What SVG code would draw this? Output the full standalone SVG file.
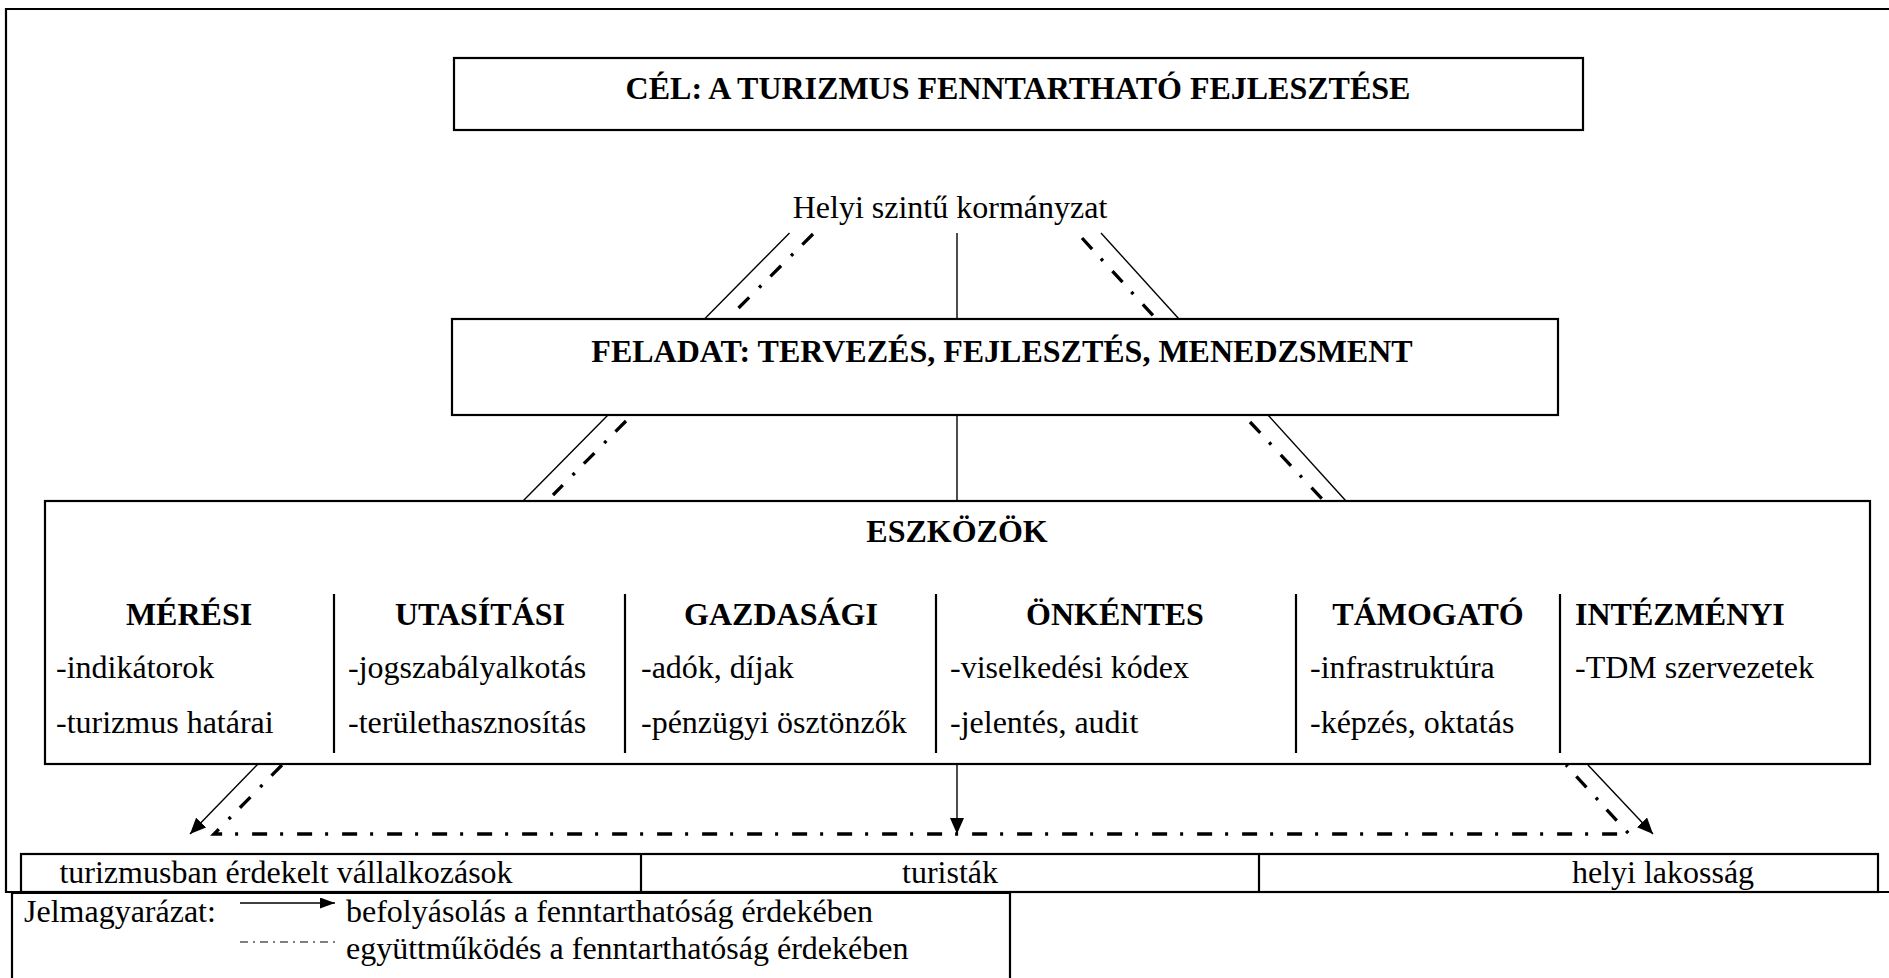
<svg xmlns="http://www.w3.org/2000/svg" width="1889" height="978" viewBox="0 0 1889 978">
<style>
  text { font-family: "Liberation Serif", "Times New Roman", serif; font-size: 32px; fill: #000; }
  .b { font-weight: bold; }
  .m { text-anchor: middle; }
  .box { fill: #fff; stroke: #000; stroke-width: 2.2; }
  .frame { fill: none; stroke: #000; stroke-width: 2.2; }
  .div { stroke: #000; stroke-width: 2.2; }
  .solid { fill: none; stroke: #000; stroke-width: 1.4; }
  .dd { fill: none; stroke: #000; stroke-width: 3.3; stroke-dasharray: 15 13 3 14; }
  .ddl { fill: none; stroke: #000; stroke-width: 1.2; stroke-dasharray: 8 5 2 5; }
</style>
<defs>
  <marker id="ah" markerUnits="userSpaceOnUse" markerWidth="17" markerHeight="14" refX="16" refY="7" orient="auto">
    <path d="M0,0 L16,7 L0,14 z" fill="#000"/>
  </marker>
  <marker id="ahs" markerUnits="userSpaceOnUse" markerWidth="16" markerHeight="11" refX="15" refY="5.5" orient="auto">
    <path d="M0,0 L15,5.5 L0,11 z" fill="#000"/>
  </marker>
</defs>
<rect width="1889" height="978" fill="#fff"/>

<g id="frame">
  <path class="frame" d="M1889,9 H6 V892 H1889"/>
</g>

<g id="cel">
  <rect class="box" x="454" y="58" width="1129" height="72"/>
  <text class="b m" x="1018" y="99">CÉL: A TURIZMUS FENNTARTHATÓ FEJLESZTÉSE</text>
</g>

<g id="helyi">
  <text class="m" x="950" y="218">Helyi szintű kormányzat</text>
</g>

<g id="feladat">
  <rect class="box" x="452" y="319" width="1106" height="96"/>
  <text class="b m" x="1002" y="362">FELADAT: TERVEZÉS, FEJLESZTÉS, MENEDZSMENT</text>
</g>

<g id="eszkozok">
  <rect class="box" x="45" y="501" width="1825" height="263"/>
  <text class="b m" x="957" y="542">ESZKÖZÖK</text>
  <line class="div" x1="334" y1="594" x2="334" y2="753"/>
  <line class="div" x1="625" y1="594" x2="625" y2="753"/>
  <line class="div" x1="936" y1="594" x2="936" y2="753"/>
  <line class="div" x1="1296" y1="594" x2="1296" y2="753"/>
  <line class="div" x1="1560" y1="594" x2="1560" y2="753"/>
  <g id="col-meresi">
    <text class="b m" x="189" y="625">MÉRÉSI</text>
    <text x="56" y="678">-indikátorok</text>
    <text x="56" y="733">-turizmus határai</text>
  </g>
  <g id="col-utasitasi">
    <text class="b m" x="480" y="625">UTASÍTÁSI</text>
    <text x="348" y="678">-jogszabályalkotás</text>
    <text x="348" y="733">-területhasznosítás</text>
  </g>
  <g id="col-gazdasagi">
    <text class="b m" x="781" y="625">GAZDASÁGI</text>
    <text x="641" y="678">-adók, díjak</text>
    <text x="641" y="733">-pénzügyi ösztönzők</text>
  </g>
  <g id="col-onkentes">
    <text class="b m" x="1115" y="625">ÖNKÉNTES</text>
    <text x="950" y="678">-viselkedési kódex</text>
    <text x="950" y="733">-jelentés, audit</text>
  </g>
  <g id="col-tamogato">
    <text class="b m" x="1428" y="625">TÁMOGATÓ</text>
    <text x="1310" y="678">-infrastruktúra</text>
    <text x="1310" y="733">-képzés, oktatás</text>
  </g>
  <g id="col-intezmenyi">
    <text class="b" x="1575" y="625">INTÉZMÉNYI</text>
    <text x="1575" y="678">-TDM szervezetek</text>
  </g>
</g>

<g id="stakeholders">
  <rect class="box" x="21" y="854" width="1857" height="38"/>
  <line class="div" x1="641" y1="854" x2="641" y2="892"/>
  <line class="div" x1="1259" y1="854" x2="1259" y2="892"/>
  <text class="m" x="286" y="883">turizmusban érdekelt vállalkozások</text>
  <text class="m" x="950" y="883">turisták</text>
  <text class="m" x="1663" y="883">helyi lakosság</text>
</g>

<g id="connectors">
  <line class="solid" x1="789.5" y1="233" x2="704.5" y2="319"/>
  <line class="dd" x1="813" y1="234" x2="729.5" y2="317"/>
  <line class="solid" x1="957" y1="233" x2="957" y2="319"/>
  <line class="dd" x1="1082" y1="238" x2="1153.5" y2="316"/>
  <line class="solid" x1="1101" y1="233" x2="1179" y2="319"/>

  <line class="solid" x1="608" y1="415" x2="523" y2="501"/>
  <line class="dd" x1="626" y1="421" x2="553" y2="495"/>
  <line class="solid" x1="957" y1="415" x2="957" y2="501"/>
  <line class="dd" x1="1250" y1="422" x2="1323" y2="500"/>
  <line class="solid" x1="1268" y1="415" x2="1346" y2="501"/>

  <line class="solid" x1="258" y1="764" x2="190" y2="834" marker-end="url(#ah)"/>
  <line class="solid" x1="957" y1="764" x2="957" y2="834" marker-end="url(#ah)"/>
  <line class="solid" x1="1588" y1="765" x2="1653" y2="834" marker-end="url(#ah)"/>
  <polyline class="dd" points="282,765 214,834 1629,834 1566,765"/>
</g>

<g id="legend">
  <path class="frame" d="M12,978 V893 H1010 V978"/>
  <text x="24" y="922">Jelmagyarázat:</text>
  <line class="solid" x1="240" y1="903" x2="335" y2="903" marker-end="url(#ahs)"/>
  <text x="346" y="922">befolyásolás a fenntarthatóság érdekében</text>
  <line class="ddl" x1="240" y1="942" x2="338" y2="942"/>
  <text x="346" y="959">együttműködés a fenntarthatóság érdekében</text>
</g>
</svg>
